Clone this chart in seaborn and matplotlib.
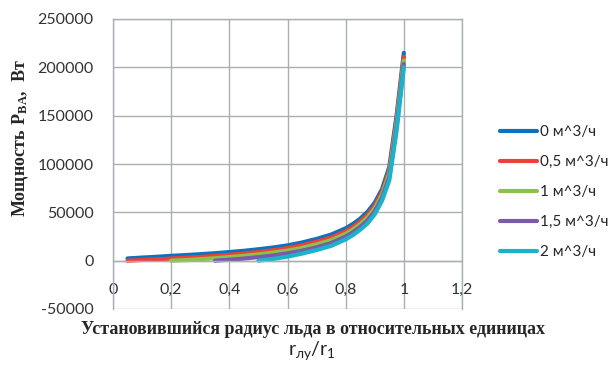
import matplotlib
matplotlib.use("Agg")
import matplotlib.pyplot as plt
import seaborn as sns
import pandas as pd

# ---- data ----
x_blue = [0.05, 0.10, 0.15, 0.20, 0.25, 0.30, 0.35, 0.40, 0.45, 0.50, 0.55, 0.60,
          0.65, 0.70, 0.75, 0.80, 0.825, 0.85, 0.875, 0.90, 0.925, 0.95, 0.975, 1.00]
y_blue = [2300, 3200, 4000, 5000, 5800, 6700, 7700, 8900, 10200, 11800, 13600, 15800,
          18800, 22500, 27000, 33500, 38000, 43500, 50500, 60000, 74000, 97000, 150000, 215000]
x_red = x_blue
y_red = [0, 700, 1400, 2200, 3000, 3900, 4900, 6100, 7400, 9000, 10800, 13000,
         15900, 19600, 24000, 30500, 35000, 40500, 47500, 57000, 71000, 93500, 146000, 211000]
x_green = [0.20, 0.25, 0.30, 0.35, 0.40, 0.45, 0.50, 0.55, 0.60, 0.65, 0.70, 0.75,
           0.80, 0.825, 0.85, 0.875, 0.90, 0.925, 0.95, 0.975, 1.00]
y_green = [0, 600, 1500, 2500, 3700, 5000, 6500, 8300, 10400, 13200, 16800, 21200,
           27800, 32200, 37800, 44500, 54000, 68000, 90000, 142000, 207000]
x_purple = [0.35, 0.40, 0.45, 0.50, 0.55, 0.60, 0.65, 0.70, 0.75, 0.80, 0.825, 0.85,
            0.875, 0.90, 0.925, 0.95, 0.975, 1.00]
y_purple = [0, 1000, 2200, 3700, 5400, 7600, 10300, 13800, 18200, 25000, 29400, 35000,
            41500, 51000, 65000, 86500, 138000, 203500]
x_cyan = [0.50, 0.55, 0.60, 0.65, 0.70, 0.75, 0.80, 0.825, 0.85, 0.875, 0.90, 0.925,
          0.95, 0.975, 1.00]
y_cyan = [0, 1800, 4200, 7300, 11000, 15300, 22000, 26500, 32000, 38500, 48000, 62000,
          83000, 134000, 200000]

series_names = ["0 м^3/ч", "0,5 м^3/ч", "1 м^3/ч", "1,5 м^3/ч", "2 м^3/ч"]
colors = ["#0A72BE", "#EC4139", "#8BC24A", "#7B5BA8", "#1AB3CB"]

x_ticks = [0, 0.2, 0.4, 0.6, 0.8, 1.0, 1.2]
x_tick_labels = ["0", "0,2", "0,4", "0,6", "0,8", "1", "1,2"]
y_ticks = [-50000, 0, 50000, 100000, 150000, 200000, 250000]
y_tick_labels = ["-50000", "0", "50000", "100000", "150000", "200000", "250000"]

frames = []
for name, xs, ys in zip(series_names,
                        [x_blue, x_red, x_green, x_purple, x_cyan],
                        [y_blue, y_red, y_green, y_purple, y_cyan]):
    frames.append(pd.DataFrame({"r": xs, "P": ys, "s": name}))
df = pd.concat(frames, ignore_index=True)

sns.set_style("white")
plt.rcParams["font.family"] = ["Lato", "DejaVu Sans"]
plt.rcParams["mathtext.fontset"] = "custom"
plt.rcParams["mathtext.rm"] = "Liberation Serif"
plt.rcParams["mathtext.bf"] = "Liberation Serif:bold"

W, H = 613, 367
fig = plt.figure(figsize=(W / 100, H / 100), dpi=100)
ax = fig.add_axes([113 / W, 1 - 309 / H, (462 - 113) / W, (309 - 19) / H])

sns.lineplot(data=df, x="r", y="P", hue="s", palette=colors, hue_order=series_names,
             linewidth=3.0, ax=ax, legend=False, sort=False, estimator=None)
for ln in ax.lines:
    ln.set_solid_joinstyle("round")
    ln.set_solid_capstyle("round")

ax.set_xlim(0, 1.2)
ax.set_ylim(-50000, 250000)
ax.set_xticks(x_ticks)
ax.set_xticklabels(x_tick_labels)
ax.set_yticks(y_ticks)
ax.set_yticklabels(y_tick_labels)
ax.grid(True, color="#A9AEB3", linewidth=1.0)
ax.set_axisbelow(True)
for sp in ["top", "right", "left", "bottom"]:
    ax.spines[sp].set_color("#A9AEB3")
    ax.spines[sp].set_linewidth(1.0)
ax.spines["bottom"].set_position(("data", 0))
ax.tick_params(axis="x", length=0, pad=16, labelsize=11.5, colors="#333333")
ax.tick_params(axis="y", length=4, pad=10, labelsize=11.5, colors="#333333",
               color="#A9AEB3")
ax.set_xlabel("")
ax.set_ylabel("")

# legend
from matplotlib.lines import Line2D
handles = [Line2D([0], [0], color=c, lw=3.0) for c in colors]
fig.legend(handles, series_names, loc="center left",
           bbox_to_anchor=(500 / W, 1 - 192 / H), frameon=False, fontsize=11,
           handlelength=2.4, handletextpad=0.25, labelspacing=1.05, borderpad=0,
           borderaxespad=0)

# labels
fig.text(20 / W, 1 - 138 / H, r"$\mathbf{Мощность\ P_{BA},\ Вт}$", rotation=90,
         ha="center", va="center", fontsize=13, math_fontfamily="custom")
fig.text(313 / W, 1 - 329 / H, "Установившийся радиус льда в относительных единицах",
         ha="center", va="center", fontsize=13, family="Liberation Serif",
         fontweight="bold")
fig.text(312 / W, 1 - 351 / H, r"$\mathregular{r_{лу}/r_{1}}$",
         ha="center", va="center", fontsize=14, family=["Lato", "DejaVu Sans"],
         color="#222222")

fig.savefig("out.png", dpi=100, facecolor="white")
